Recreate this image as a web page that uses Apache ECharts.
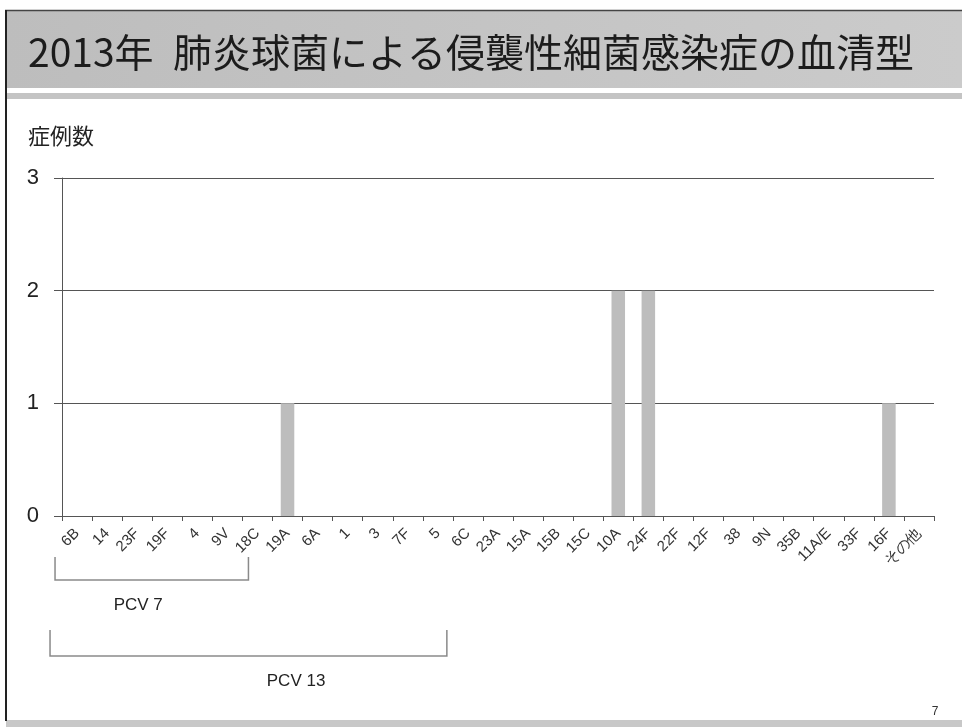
<!DOCTYPE html>
<html>
<head>
<meta charset="utf-8">
<script src="https://cdn.jsdelivr.net/npm/echarts@6/dist/echarts.min.js"></script>
<style>
  html, body { margin: 0; padding: 0; background: #ffffff; }
  #chart { width: 962px; height: 727px; }
</style>
</head>
<body>
<div id="chart"></div>
<script>
// Serotypes along the x axis and the number of cases for each
const serotypes = ['6B', '14', '23F', '19F', '4', '9V', '18C', '19A', '6A', '1', '3', '7F', '5',
  '6C', '23A', '15A', '15B', '15C', '10A', '24F', '22F', '12F', '38', '9N', '35B', '11A/E', '33F', '16F', 'その他'];
const cases = [0, 0, 0, 0, 0, 0, 0, 1, 0, 0, 0, 0, 0,
  0, 0, 0, 0, 0, 2, 2, 0, 0, 0, 0, 0, 0, 0, 1, 0];
const caseTicks = [0, 1, 2, 3];

// Serotypes covered by each vaccine
const vaccineGroups = [
  { name: 'PCV 7', first: '6B', last: '18C' },
  { name: 'PCV 13', first: '6B', last: '5' }
];

const titleText = '2013年\u2002肺炎球菌による侵襲性細菌感染症の血清型';
const yAxisTitle = '症例数';
const pageNumber = '7';

// Bracket drawing parameters (pixel offsets from the category centres)
const bracketLayout = [
  { padLeft: 22, padRight: -9, top: 557, bottom: 580, labelAt: 0.43, labelY: 605 },
  { padLeft: 27, padRight: 9, top: 630, bottom: 656, labelAt: 0.62, labelY: 681 }
];

const W = 962, H = 727;
const chart = echarts.init(document.getElementById('chart'), null, { renderer: 'canvas' });

const frame = [
  // header band
  { type: 'rect', z: 0, shape: { x: 6, y: 11, width: W - 6, height: 77 },
    style: { fill: new echarts.graphic.LinearGradient(0, 0, 1, 0, [
      { offset: 0, color: '#bdbdbd' }, { offset: 1, color: '#cbcbcb' }]) } },
  // band under the header
  { type: 'rect', z: 0, shape: { x: 6, y: 93, width: W - 6, height: 6 }, style: { fill: '#c4c4c4' } },
  // footer band
  { type: 'rect', z: 0, shape: { x: 6, y: 720, width: W - 6, height: 7 }, style: { fill: '#c8c8c8' } },
  // top border
  { type: 'line', z: 1, shape: { x1: 5, y1: 10.5, x2: W, y2: 10.5 }, style: { stroke: '#444', lineWidth: 1.5 } },
  // left border
  { type: 'line', z: 1, shape: { x1: 6, y1: 10, x2: 6, y2: 721 }, style: { stroke: '#222', lineWidth: 2 } },
  // slide title
  { type: 'text', z: 2, style: { x: 28, y: 52, text: titleText, fill: '#1c1c1c',
      font: '39px "Noto Sans CJK JP", sans-serif', verticalAlign: 'middle', align: 'left' } },
  // page number
  { type: 'text', z: 2, style: { x: 935, y: 712, text: pageNumber, fill: '#333',
      font: '12px "Liberation Sans", Arial, sans-serif', verticalAlign: 'middle', align: 'center' } }
];

chart.setOption({
  animation: false,
  backgroundColor: '#ffffff',
  title: {
    text: yAxisTitle, left: 23, top: 120,
    textStyle: { fontSize: 22, fontWeight: 'normal', color: '#222', fontFamily: '"Noto Sans CJK JP", sans-serif' }
  },
  grid: { left: 62, right: 28, top: 178, bottom: 211, containLabel: false, outerBoundsMode: 'none' },
  xAxis: {
    type: 'category',
    data: serotypes,
    boundaryGap: true,
    axisLine: { show: true, lineStyle: { color: '#555', width: 1 } },
    axisTick: { show: true, length: 5, alignWithLabel: false, interval: 0, lineStyle: { color: '#555' } },
    axisLabel: { interval: 0, rotate: 45, margin: 15, fontSize: 15, color: '#333',
      fontFamily: '"Liberation Sans", Arial, sans-serif' },
    splitLine: { show: false }
  },
  yAxis: {
    type: 'value',
    min: caseTicks[0],
    max: caseTicks[caseTicks.length - 1],
    interval: 1,
    axisLine: { show: true, lineStyle: { color: '#555', width: 1 } },
    axisTick: { show: true, length: 8, lineStyle: { color: '#555' } },
    axisLabel: { margin: 23, fontSize: 22, color: '#222', fontFamily: '"Liberation Sans", Arial, sans-serif' },
    splitLine: { show: true, lineStyle: { color: '#555', width: 1 } }
  },
  series: [{
    type: 'bar',
    data: cases,
    barWidth: '45%',
    itemStyle: { color: '#bdbdbd' },
    z: 3
  }],
  graphic: frame
});

// Vaccine coverage brackets under the category labels
const brackets = [];
vaccineGroups.forEach(function (g, i) {
  const L = bracketLayout[i];
  const x0 = chart.convertToPixel({ xAxisIndex: 0 }, g.first) - L.padLeft;
  const x1 = chart.convertToPixel({ xAxisIndex: 0 }, g.last) + L.padRight;
  brackets.push({
    type: 'polyline', z: 2,
    shape: { points: [[x0, L.top], [x0, L.bottom], [x1, L.bottom], [x1, L.top]] },
    style: { stroke: '#8a8a8a', lineWidth: 1.5, fill: null }
  });
  brackets.push({
    type: 'text', z: 2,
    style: { x: x0 + (x1 - x0) * L.labelAt, y: L.labelY, text: g.name, fill: '#222',
      font: '17px "Liberation Sans", Arial, sans-serif', align: 'center', verticalAlign: 'middle' }
  });
});
chart.setOption({ graphic: frame.concat(brackets) });
</script>
</body>
</html>
